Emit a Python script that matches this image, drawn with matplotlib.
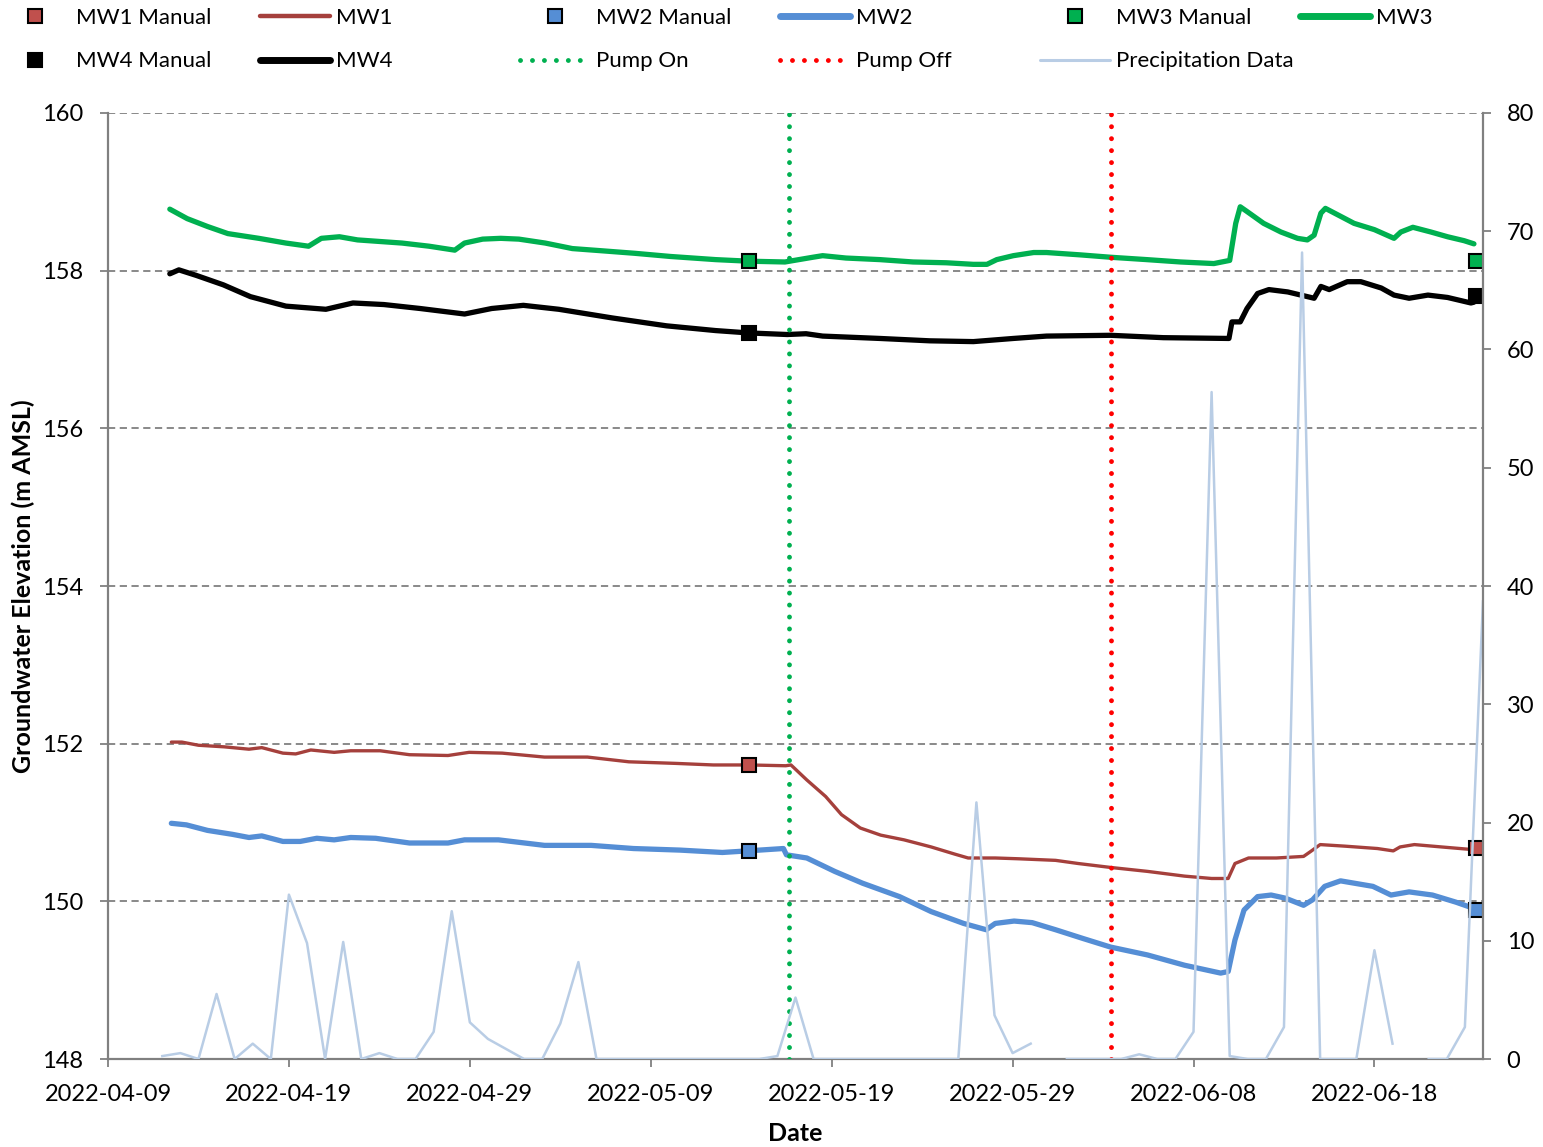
"""
Groundwater elevation at MW1-MW4 with manual readings, pump on/off
markers and daily precipitation on a secondary axis.
"""

import numpy as np
import pandas as pd
import matplotlib
matplotlib.use("Agg")
import matplotlib.pyplot as plt
import matplotlib.dates as mdates
from matplotlib.lines import Line2D

plt.rcParams['font.family'] = ['Lato', 'DejaVu Sans']

#--------------------------------------------------------------
# logger data

mw1_dates = ['2022-04-12 12:00', '2022-04-13 02:00', '2022-04-14 00:00', '2022-04-15 10:00',
             '2022-04-16 19:00', '2022-04-17 12:00', '2022-04-18 16:00', '2022-04-19 09:00',
             '2022-04-20 05:00', '2022-04-21 12:00', '2022-04-22 10:00', '2022-04-24 01:00',
             '2022-04-25 16:00', '2022-04-27 19:00', '2022-04-28 23:00', '2022-04-30 19:00',
             '2022-05-03 03:00', '2022-05-05 12:00', '2022-05-07 19:00', '2022-05-10 09:00',
             '2022-05-12 11:00', '2022-05-14 11:00', '2022-05-16 11:00', '2022-05-16 18:00',
             '2022-05-17 15:00', '2022-05-18 16:00', '2022-05-19 13:00', '2022-05-20 14:00',
             '2022-05-21 17:00', '2022-05-23 00:00', '2022-05-24 12:00', '2022-05-25 19:00',
             '2022-05-26 13:00', '2022-05-28 01:00', '2022-05-29 08:00', '2022-05-31 09:00',
             '2022-06-01 15:00', '2022-06-03 10:00', '2022-06-05 11:00', '2022-06-07 12:00',
             '2022-06-09 00:00', '2022-06-09 22:00', '2022-06-10 07:00', '2022-06-11 01:00',
             '2022-06-12 14:00', '2022-06-14 02:00', '2022-06-14 11:00', '2022-06-15 00:00',
             '2022-06-16 09:00', '2022-06-18 04:00', '2022-06-19 01:00', '2022-06-19 10:00',
             '2022-06-20 05:00', '2022-06-21 17:00', '2022-06-23 06:00', '2022-06-23 12:00']
mw1_level = [152.02, 152.02, 151.98, 151.96, 151.93, 151.95, 151.88, 151.87,
             151.92, 151.89, 151.91, 151.91, 151.86, 151.85, 151.89, 151.88,
             151.83, 151.83, 151.77, 151.75, 151.73, 151.73, 151.72, 151.73,
             151.54, 151.33, 151.10, 150.93, 150.84, 150.78, 150.69, 150.60,
             150.55, 150.55, 150.54, 150.52, 150.48, 150.43, 150.38, 150.32,
             150.29, 150.29, 150.48, 150.55, 150.55, 150.57, 150.63, 150.72,
             150.70, 150.67, 150.64, 150.69, 150.72, 150.69, 150.66, 150.65]

mw2_dates = ['2022-04-12 12:00', '2022-04-13 08:00', '2022-04-14 12:00', '2022-04-15 21:00',
             '2022-04-16 19:00', '2022-04-17 12:00', '2022-04-18 16:00', '2022-04-19 15:00',
             '2022-04-20 13:00', '2022-04-21 12:00', '2022-04-22 10:00', '2022-04-23 19:00',
             '2022-04-25 16:00', '2022-04-27 19:00', '2022-04-28 17:00', '2022-04-30 14:00',
             '2022-05-03 03:00', '2022-05-05 17:00', '2022-05-08 01:00', '2022-05-10 15:00',
             '2022-05-12 23:00', '2022-05-14 08:00', '2022-05-16 08:00', '2022-05-16 12:00',
             '2022-05-17 15:00', '2022-05-19 04:00', '2022-05-20 17:00', '2022-05-22 18:00',
             '2022-05-24 12:00', '2022-05-26 07:00', '2022-05-27 13:00', '2022-05-28 01:00',
             '2022-05-29 02:00', '2022-05-30 02:00', '2022-05-31 09:00', '2022-06-01 21:00',
             '2022-06-03 10:00', '2022-06-05 11:00', '2022-06-07 12:00', '2022-06-09 12:00',
             '2022-06-09 22:00', '2022-06-10 07:00', '2022-06-10 19:00', '2022-06-11 13:00',
             '2022-06-12 07:00', '2022-06-13 02:00', '2022-06-14 02:00', '2022-06-14 14:00',
             '2022-06-15 06:00', '2022-06-16 03:00', '2022-06-17 22:00', '2022-06-18 22:00',
             '2022-06-19 22:00', '2022-06-21 05:00', '2022-06-22 12:00', '2022-06-23 06:00',
             '2022-06-23 12:00']
mw2_level = [150.99, 150.97, 150.90, 150.85, 150.81, 150.83, 150.76, 150.76,
             150.80, 150.78, 150.81, 150.80, 150.74, 150.74, 150.78, 150.78,
             150.71, 150.71, 150.67, 150.65, 150.62, 150.64, 150.67, 150.59,
             150.55, 150.38, 150.23, 150.06, 149.87, 149.72, 149.64, 149.72,
             149.75, 149.73, 149.64, 149.53, 149.42, 149.32, 149.19, 149.09,
             149.11, 149.51, 149.89, 150.06, 150.08, 150.04, 149.95, 150.02,
             150.19, 150.26, 150.19, 150.08, 150.12, 150.08, 149.99, 149.93,
             149.91]

mw3_dates = ['2022-04-12 10:00', '2022-04-13 09:00', '2022-04-14 12:00', '2022-04-15 15:00',
             '2022-04-17 08:00', '2022-04-18 20:00', '2022-04-20 02:00', '2022-04-20 19:00',
             '2022-04-21 19:00', '2022-04-22 19:00', '2022-04-25 06:00', '2022-04-26 18:00',
             '2022-04-28 04:00', '2022-04-28 17:00', '2022-04-29 17:00', '2022-04-30 17:00',
             '2022-05-01 17:00', '2022-05-03 04:00', '2022-05-04 16:00', '2022-05-06 10:00',
             '2022-05-08 03:00', '2022-05-10 02:00', '2022-05-12 14:00', '2022-05-14 10:00',
             '2022-05-16 10:00', '2022-05-17 23:00', '2022-05-18 12:00', '2022-05-19 19:00',
             '2022-05-21 16:00', '2022-05-23 12:00', '2022-05-25 08:00', '2022-05-26 20:00',
             '2022-05-27 14:00', '2022-05-28 03:00', '2022-05-29 01:00', '2022-05-30 04:00',
             '2022-05-30 21:00', '2022-06-01 18:00', '2022-06-03 10:00', '2022-06-05 10:00',
             '2022-06-07 07:00', '2022-06-09 03:00', '2022-06-10 00:00', '2022-06-10 08:00',
             '2022-06-10 14:00', '2022-06-10 23:00', '2022-06-11 21:00', '2022-06-12 20:00',
             '2022-06-13 18:00', '2022-06-14 07:00', '2022-06-14 16:00', '2022-06-15 01:00',
             '2022-06-15 07:00', '2022-06-15 23:00', '2022-06-16 21:00', '2022-06-18 00:00',
             '2022-06-19 02:00', '2022-06-19 11:00', '2022-06-20 03:00', '2022-06-21 03:00',
             '2022-06-22 01:00', '2022-06-22 23:00', '2022-06-23 12:00']
mw3_level = [158.78, 158.66, 158.56, 158.47, 158.41, 158.35, 158.31, 158.41,
             158.43, 158.39, 158.35, 158.31, 158.26, 158.35, 158.40, 158.41,
             158.40, 158.35, 158.28, 158.25, 158.22, 158.18, 158.14, 158.12,
             158.11, 158.17, 158.19, 158.16, 158.14, 158.11, 158.10, 158.08,
             158.08, 158.14, 158.19, 158.23, 158.23, 158.20, 158.17, 158.14,
             158.11, 158.09, 158.13, 158.60, 158.81, 158.75, 158.60, 158.49,
             158.41, 158.39, 158.45, 158.73, 158.79, 158.71, 158.60, 158.52,
             158.41, 158.49, 158.55, 158.49, 158.43, 158.38, 158.34]

mw4_dates = ['2022-04-12 10:00', '2022-04-12 22:00', '2022-04-13 21:00', '2022-04-15 09:00',
             '2022-04-16 21:00', '2022-04-18 20:00', '2022-04-21 01:00', '2022-04-22 13:00',
             '2022-04-24 06:00', '2022-04-26 06:00', '2022-04-28 17:00', '2022-04-30 05:00',
             '2022-05-01 23:00', '2022-05-03 22:00', '2022-05-06 21:00', '2022-05-09 21:00',
             '2022-05-12 14:00', '2022-05-14 10:00', '2022-05-16 13:00', '2022-05-17 14:00',
             '2022-05-18 12:00', '2022-05-21 16:00', '2022-05-24 10:00', '2022-05-26 20:00',
             '2022-05-29 01:00', '2022-05-30 21:00', '2022-06-03 10:00', '2022-06-06 08:00',
             '2022-06-09 23:00', '2022-06-10 03:00', '2022-06-10 14:00', '2022-06-10 23:00',
             '2022-06-11 13:00', '2022-06-12 04:00', '2022-06-13 05:00', '2022-06-14 16:00',
             '2022-06-15 01:00', '2022-06-15 12:00', '2022-06-16 12:00', '2022-06-17 06:00',
             '2022-06-18 09:00', '2022-06-19 02:00', '2022-06-19 22:00', '2022-06-20 23:00',
             '2022-06-22 01:00', '2022-06-23 08:00', '2022-06-23 12:00']
mw4_level = [157.96, 158.01, 157.94, 157.82, 157.67, 157.55, 157.51, 157.59,
             157.57, 157.52, 157.45, 157.52, 157.56, 157.51, 157.40, 157.30,
             157.24, 157.21, 157.19, 157.20, 157.17, 157.14, 157.11, 157.10,
             157.14, 157.17, 157.18, 157.15, 157.14, 157.35, 157.35, 157.52,
             157.71, 157.76, 157.73, 157.65, 157.80, 157.76, 157.86, 157.86,
             157.78, 157.69, 157.65, 157.69, 157.66, 157.59, 157.60]

# manual readings
manual_dates = ['2022-05-14 10:00', '2022-06-23 15:00']
mw1_manual = [151.73, 150.68]
mw2_manual = [150.64, 149.89]
mw3_manual = [158.12, 158.12]
mw4_manual = [157.21, 157.68]

pump_on = '2022-05-16 16:00'
pump_off = '2022-06-03 10:00'

# daily precipitation (mm), NaN = no record
precip_dates = pd.date_range('2022-04-12', '2022-06-24', freq='D')
precip_mm = [0.25, 0.5, 0.0, 5.5, 0.0, 1.3, 0.0, 13.9, 9.8, 0.0,      # 04-12 .. 04-21
             9.9, 0.0, 0.5, 0.0, 0.0, 2.3, 12.5, 3.1, 1.7, 0.85,      # 04-22 .. 05-01
             0.0, 0.0, 3.0, 8.2, 0.0, 0.0, 0.0, 0.0, 0.0, 0.0,        # 05-02 .. 05-11
             0.0, 0.0, 0.0, 0.0, 0.25, 5.2, 0.0, 0.0, 0.0, 0.0,       # 05-12 .. 05-21
             0.0, 0.0, 0.0, 0.0, 0.0, 21.7, 3.7, 0.5, 1.3, np.nan,    # 05-22 .. 05-31
             0.0, 0.0, 0.0, 0.0, 0.4, 0.0, 0.0, 2.3, 56.4, 0.25,      # 06-01 .. 06-10
             0.0, 0.0, 2.7, 68.2, 0.0, 0.0, 0.0, 9.2, 1.3, np.nan,    # 06-11 .. 06-20
             0.0, 0.0, 2.7, 38.7]                                     # 06-21 .. 06-24

x_ticks = pd.date_range('2022-04-09', '2022-06-18', freq='10D')

#--------------------------------------------------------------

FS = 17
LEG_FS = 16
GREY = '#808080'

fig = plt.figure(figsize=(15.43, 11.47), dpi=100)
ax = fig.add_axes([0.0700, 0.0767, 0.8911, 0.8248])
ax2 = ax.twinx()

ax.plot(pd.to_datetime(mw1_dates), mw1_level, color='#A5403C', lw=2.4,
        solid_capstyle='round', zorder=3)
ax.plot(pd.to_datetime(mw2_dates), mw2_level, color='#558ED5', lw=3.8,
        solid_capstyle='round', zorder=3)
ax.plot(pd.to_datetime(mw3_dates), mw3_level, color='#00B050', lw=3.8,
        solid_capstyle='round', zorder=3)
ax.plot(pd.to_datetime(mw4_dates), mw4_level, color='black', lw=3.8,
        solid_capstyle='round', zorder=3)

mdt = pd.to_datetime(manual_dates)
for vals, fc in [(mw1_manual, '#C0504D'), (mw2_manual, '#558ED5'),
                 (mw3_manual, '#00B050'), (mw4_manual, 'black')]:
    ax.plot(mdt, vals, 's', ms=10, mfc=fc, mec='black', mew=1.5, zorder=5)

dots = (0, (0.01, 2.45))
ax.axvline(pd.to_datetime(pump_on), color='#00B050', lw=3.5, linestyle=dots,
           dash_capstyle='round', zorder=4)
ax.axvline(pd.to_datetime(pump_off), color='#FF0000', lw=3.5, linestyle=dots,
           dash_capstyle='round', zorder=4)

ax2.plot(precip_dates, precip_mm, color='#B9CDE5', lw=1.8)

# axes
ax.set_xlim(pd.Timestamp('2022-04-09'), pd.Timestamp('2022-06-24'))
ax.set_ylim(148, 160)
ax.set_yticks(np.arange(148, 161, 2))
ax2.set_ylim(0, 80)
ax2.set_yticks(np.arange(0, 81, 10))
ax.set_xticks(x_ticks)
ax.xaxis.set_major_formatter(mdates.DateFormatter('%Y-%m-%d'))

ax.yaxis.grid(True, linestyle=(0, (4, 2.5)), color=GREY, lw=1.3)
ax.set_axisbelow(True)

for a in (ax, ax2):
    for side in a.spines:
        a.spines[side].set_color(GREY)
        a.spines[side].set_linewidth(1.6)
    a.spines['top'].set_visible(False)
ax.spines['right'].set_visible(False)
ax2.spines['left'].set_visible(False)
ax2.spines['bottom'].set_visible(False)

ax.tick_params(axis='x', direction='out', length=6, width=1.3, color=GREY,
               labelsize=FS, pad=12)
ax.tick_params(axis='y', direction='out', length=6, width=1.3, color=GREY,
               labelsize=FS, pad=12)
ax2.tick_params(axis='y', direction='out', length=6, width=1.3, color=GREY,
                labelsize=FS, pad=11)

ax.set_xlabel('Date', fontsize=18, fontweight='bold', labelpad=12)
ax.set_ylabel('Groundwater Elevation (m AMSL)', fontsize=18, fontweight='bold',
              labelpad=5)

#--------------------------------------------------------------
# legend: six evenly spaced columns, two rows

def sq(fc):
    return Line2D([], [], ls='none', marker='s', ms=10, mfc=fc, mec='black', mew=1.5)

def ln(c, lw, ls='-'):
    return Line2D([], [], color=c, lw=lw, ls=ls, dash_capstyle='round',
                  solid_capstyle='round')

columns = [
    [(sq('#C0504D'), 'MW1 Manual'), (sq('black'), 'MW4 Manual')],
    [(ln('#A5403C', 3.2), 'MW1'), (ln('black', 5), 'MW4')],
    [(sq('#558ED5'), 'MW2 Manual'), (ln('#00B050', 3.5, dots), 'Pump On')],
    [(ln('#558ED5', 5), 'MW2'), (ln('#FF0000', 3.5, dots), 'Pump Off')],
    [(sq('#00B050'), 'MW3 Manual'), (ln('#B9CDE5', 2.2), 'Precipitation Data')],
    [(ln('#00B050', 5), 'MW3')],
]
W, H = 1543.0, 1147.0
for i, col in enumerate(columns):
    x0 = 0 + 260 * i
    fig.legend([h for h, _ in col], [t for _, t in col], loc='upper left',
               bbox_to_anchor=(x0 / W, 1 - 8 / H), bbox_transform=fig.transFigure,
               frameon=False, fontsize=LEG_FS, borderpad=0, borderaxespad=0,
               handlelength=70 / (LEG_FS * 100 / 72), handletextpad=0.27,
               labelspacing=1.05)

fig.savefig('out.png', dpi=100)
